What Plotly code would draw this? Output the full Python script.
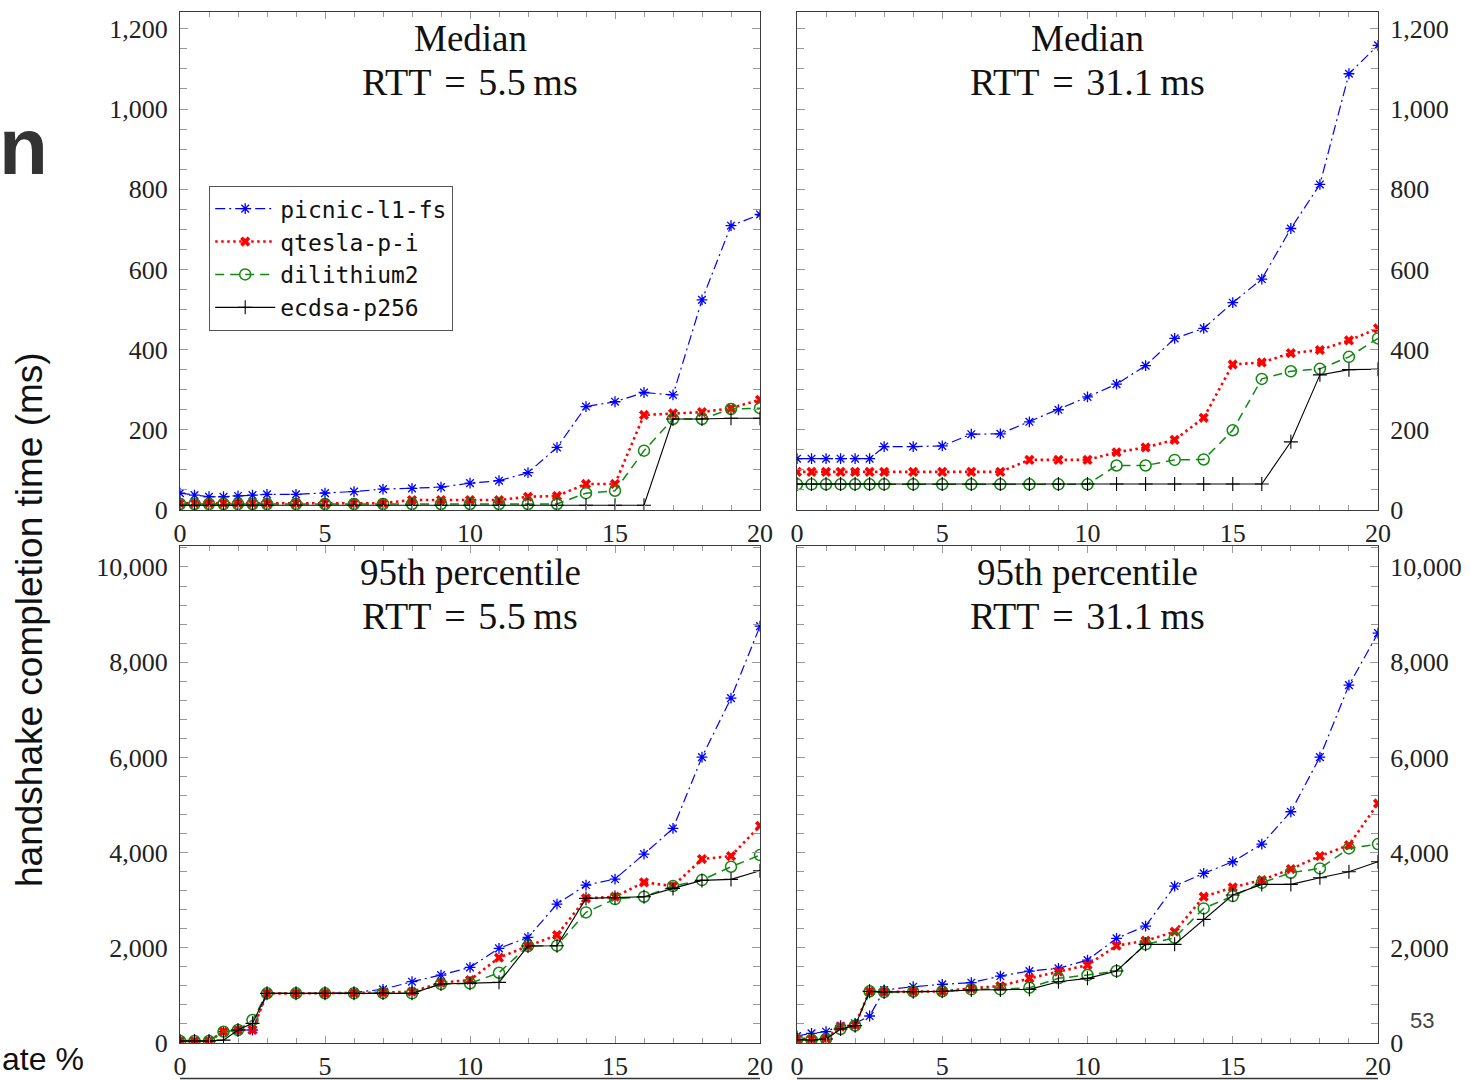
import plotly.graph_objects as go

W, H = 1470, 1080

# ---------------- data ----------------
error_rate = [0, 0.5, 1, 1.5, 2, 2.5, 3, 4, 5, 6, 7, 8, 9, 10, 11, 12, 13, 14, 15, 16, 17, 18, 19, 20]
series_names = ["picnic-l1-fs", "qtesla-p-i", "dilithium2", "ecdsa-p256"]

# Median, RTT = 5.5 ms
med55_picnic = [42, 37, 33, 33, 35, 37, 39, 39, 42, 46, 52, 54, 57, 67, 73, 93, 156, 258, 270, 293, 287, 524, 709, 737]
med55_qtesla = [17, 17, 17, 17, 17, 17, 17, 17, 17, 17, 17, 25, 25, 25, 25, 33, 35, 65, 65, 237, 241, 244, 254, 275]
med55_dilith = [15, 15, 15, 15, 15, 15, 15, 15, 15, 15, 15, 15, 15, 15, 15, 15, 15, 42, 48, 148, 227, 227, 252, 254]
med55_ecdsa = [12, 12, 12, 12, 12, 12, 12, 12, 12, 12, 12, 12, 12, 12, 12, 12, 12, 12, 12, 12, 227, 227, 229, 229]

# Median, RTT = 31.1 ms
med311_picnic = [128, 128, 128, 128, 128, 128, 158, 158, 160, 189, 190, 220, 250, 282, 314, 360, 428, 453, 517, 576, 702, 812, 1088, 1159]
med311_qtesla = [95, 95, 95, 95, 95, 95, 95, 95, 95, 95, 95, 125, 125, 125, 144, 156, 175, 230, 363, 368, 391, 399, 423, 453]
med311_dilith = [64, 64, 64, 64, 64, 64, 64, 64, 64, 64, 64, 64, 64, 64, 111, 111, 125, 126, 199, 327, 346, 352, 382, 428]
med311_ecdsa = [65, 65, 65, 65, 65, 65, 65, 65, 65, 65, 65, 65, 65, 65, 65, 65, 65, 65, 65, 65, 170, 337, 350, 351]

# 95th percentile, RTT = 5.5 ms
p95_55_picnic = [42, 42, 42, 238, 273, 273, 1043, 1043, 1043, 1064, 1127, 1288, 1428, 1589, 1988, 2219, 2919, 3318, 3444, 3969, 4508, 6006, 7245, 8757]
p95_55_qtesla = [42, 42, 42, 238, 273, 273, 1043, 1043, 1043, 1050, 1057, 1078, 1267, 1323, 1792, 2037, 2268, 3038, 3073, 3375, 3297, 3864, 3927, 4564]
p95_55_dilith = [42, 42, 42, 238, 273, 483, 1043, 1043, 1043, 1043, 1050, 1043, 1239, 1253, 1476, 2037, 2044, 2744, 3024, 3073, 3297, 3423, 3703, 3948]
p95_55_ecdsa = [42, 42, 42, 60, 273, 413, 1043, 1043, 1043, 1043, 1050, 1043, 1239, 1253, 1274, 2037, 2044, 3038, 3055, 3073, 3248, 3416, 3437, 3618]

# 95th percentile, RTT = 31.1 ms
p95_311_picnic = [147, 203, 238, 364, 413, 567, 1113, 1183, 1232, 1267, 1407, 1512, 1568, 1743, 2198, 2457, 3297, 3563, 3808, 4179, 4858, 6006, 7518, 8610]
p95_311_qtesla = [84, 84, 98, 343, 378, 1085, 1070, 1078, 1085, 1148, 1197, 1358, 1498, 1638, 2044, 2149, 2338, 3073, 3269, 3423, 3654, 3927, 4158, 5033]
p95_311_dilith = [70, 63, 84, 294, 364, 1085, 1070, 1078, 1085, 1127, 1127, 1162, 1358, 1428, 1512, 2072, 2212, 2828, 3087, 3366, 3577, 3668, 4088, 4179]
p95_311_ecdsa = [70, 63, 84, 294, 364, 1085, 1070, 1078, 1085, 1113, 1113, 1127, 1288, 1358, 1512, 2072, 2072, 2597, 3108, 3332, 3332, 3472, 3598, 3808]

x_ticks = [0, 5, 10, 15, 20]
median_ticks = [0, 200, 400, 600, 800, 1000, 1200]
p95_ticks = [0, 2000, 4000, 6000, 8000, 10000]

panel_titles = ["Median", "Median", "95th percentile", "95th percentile"]
panel_rtts = ["RTT\u2004=\u20045.5\u2009ms", "RTT\u2004=\u200431.1\u2009ms",
              "RTT\u2004=\u20045.5\u2009ms", "RTT\u2004=\u200431.1\u2009ms"]

# ---------------- styles ----------------
styles = [
    dict(color="#0000ff", dash="10px,4px,2px,4px", width=1.2, symbol="asterisk-open", size=9, mlw=1.3),
    dict(color="#ff0000", dash="2.5px,3.5px", width=2.6, symbol="x", size=9, mlw=0),
    dict(color="#118811", dash="9px,6px", width=1.5, symbol="circle-open", size=11, mlw=1.5),
    dict(color="#000000", dash="solid", width=1.1, symbol="cross-thin-open", size=10, mlw=1.1),
]

def px_x(p):
    return p / W

def px_y(p):
    return 1 - p / H

xL = [px_x(180), px_x(760)]
xR = [px_x(797), px_x(1378)]
yT = [px_y(510), px_y(12)]
yB = [px_y(1043), px_y(546)]

panels = [
    dict(xd=xL, yd=yT, data=[med55_picnic, med55_qtesla, med55_dilith, med55_ecdsa], yr=1242, ticks=median_ticks, minor=50, side="left"),
    dict(xd=xR, yd=yT, data=[med311_picnic, med311_qtesla, med311_dilith, med311_ecdsa], yr=1242, ticks=median_ticks, minor=50, side="right"),
    dict(xd=xL, yd=yB, data=[p95_55_picnic, p95_55_qtesla, p95_55_dilith, p95_55_ecdsa], yr=10441, ticks=p95_ticks, minor=400, side="left"),
    dict(xd=xR, yd=yB, data=[p95_311_picnic, p95_311_qtesla, p95_311_dilith, p95_311_ecdsa], yr=10441, ticks=p95_ticks, minor=400, side="right"),
]

SERIF = "Liberation Serif, Times New Roman, serif"
tickfont = dict(family=SERIF, size=26, color="#222")
frame = "#3a3a3a"
tickc = "#9a9a9a"

fig = go.Figure()
layout = {}
for i, p in enumerate(panels):
    n = "" if i == 0 else str(i + 1)
    xa, ya = "x" + n, "y" + n
    for j, ys in enumerate(p["data"]):
        s = styles[j]
        fig.add_trace(go.Scatter(
            x=error_rate, y=ys, xaxis=xa, yaxis=ya, mode="lines+markers",
            name=series_names[j], legendgroup=series_names[j], showlegend=(i == 0),
            line=dict(color=s["color"], dash=s["dash"], width=s["width"]),
            marker=dict(symbol=s["symbol"], size=s["size"], color=s["color"],
                        line=dict(color=s["color"], width=s["mlw"])),
            cliponaxis=True,
        ))
    layout["xaxis" + n] = dict(
        domain=p["xd"], anchor=ya, range=[0, 20], tickvals=x_ticks, automargin=False,
        ticks="inside", ticklen=7, tickcolor=tickc, tickwidth=1,
        minor=dict(dtick=1, ticks="inside", ticklen=5, tickcolor=tickc, tickwidth=1, tick0=0),
        showline=True, linecolor=frame, linewidth=1.2, mirror="allticks",
        showgrid=False, zeroline=False, tickfont=tickfont,
    )
    layout["yaxis" + n] = dict(
        domain=p["yd"], anchor=xa, range=[0, p["yr"]], tickvals=p["ticks"], tickformat=",d",
        side=p["side"], ticks="inside", ticklen=8, tickcolor=tickc, tickwidth=1, automargin=False,
        minor=dict(dtick=p["minor"], ticks="inside", ticklen=7, tickcolor=tickc, tickwidth=1, tick0=0),
        showline=True, linecolor=frame, linewidth=1.2, mirror="allticks",
        showgrid=False, zeroline=False, tickfont=tickfont, ticklabelstandoff=6,
    )

annotations = []
title_pos = [(470, 38, 82), (1087.5, 38, 82), (470, 572, 616), (1087.5, 572, 616)]
for i, (cx, y1, y2) in enumerate(title_pos):
    annotations.append(dict(x=px_x(cx), y=px_y(y1), xref="paper", yref="paper", text=panel_titles[i],
                            showarrow=False, xanchor="center", yanchor="middle",
                            font=dict(family=SERIF, size=37, color="#111")))
    annotations.append(dict(x=px_x(cx), y=px_y(y2), xref="paper", yref="paper", text=panel_rtts[i],
                            showarrow=False, xanchor="center", yanchor="middle",
                            font=dict(family=SERIF, size=38, color="#111")))

annotations.append(dict(x=px_x(29), y=px_y(620), xref="paper", yref="paper",
                        text="handshake completion time (ms)", textangle=-90, showarrow=False,
                        xanchor="center", yanchor="middle",
                        font=dict(family="Liberation Sans, Arial, sans-serif", size=37, color="#111")))
annotations.append(dict(x=px_x(-3), y=px_y(146), xref="paper", yref="paper", text="<b>n</b>",
                        showarrow=False, xanchor="left", yanchor="middle",
                        font=dict(family="Liberation Sans Narrow, Arial Narrow, Liberation Sans, sans-serif",
                                  size=80, color="#333")))
annotations.append(dict(x=px_x(0), y=px_y(1079), xref="paper", yref="paper", text="ate %",
                        showarrow=False, xanchor="left", yanchor="bottom",
                        font=dict(family="Liberation Sans, Arial, sans-serif", size=32, color="#111")))
annotations.append(dict(x=px_x(1422), y=px_y(1020), xref="paper", yref="paper", text="53",
                        showarrow=False, xanchor="center", yanchor="middle",
                        font=dict(family="Liberation Sans, Arial, sans-serif", size=22, color="#444")))

shapes = [
    dict(type="line", xref="paper", yref="paper", x0=px_x(180), x1=px_x(760), y0=px_y(1078.5), y1=px_y(1078.5),
         line=dict(color="#333", width=1.5)),
    dict(type="line", xref="paper", yref="paper", x0=px_x(797), x1=px_x(1378), y0=px_y(1078.5), y1=px_y(1078.5),
         line=dict(color="#333", width=1.5)),
]

fig.update_layout(
    width=W, height=H, margin=dict(l=0, r=0, t=0, b=0, autoexpand=False),
    paper_bgcolor="white", plot_bgcolor="white",
    showlegend=True,
    legend=dict(x=px_x(209), y=px_y(186), xanchor="left", yanchor="top",
                bgcolor="white", bordercolor="#555", borderwidth=1.2,
                font=dict(family="DejaVu Sans Mono, Liberation Mono, monospace", size=23, color="#111"),
                itemwidth=60, tracegroupgap=8, traceorder="normal"),
    annotations=annotations, shapes=shapes,
    **layout,
)

fig.write_html("out.html")
